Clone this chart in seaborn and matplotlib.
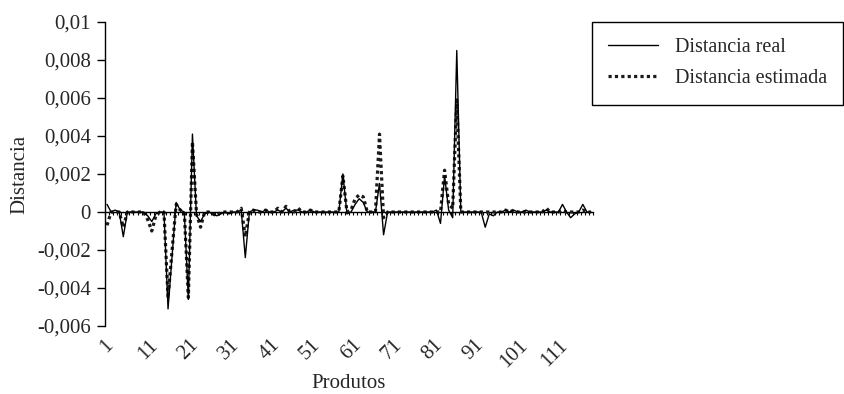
import numpy as np
import pandas as pd
import seaborn as sns
from matplotlib import pyplot as plt

# distance per product (1..120)
real = [
    0.0004, 0.0000, 0.0001, 0.0000, -0.0013, 0.0000, 0.0000, 0.0000, 0.0000, 0.0000,
    -0.0002, -0.0005, -0.0001, 0.0000, 0.0000, -0.0051, -0.0023, 0.0005, 0.0001, 0.0000,
    -0.0046, 0.0041, -0.0002, -0.0005, -0.0001, 0.0000, -0.0001, -0.0002, -0.0001, 0.0000,
    -0.0001, 0.0000, 0.0000, 0.0001, -0.0024, 0.0000, 0.0001, 0.0001, 0.0000, 0.0001,
    0.0000, 0.0000, 0.0001, 0.0000, 0.0002, 0.0000, 0.0001, 0.0001, 0.0000, 0.0000,
    0.0001, 0.0000, 0.0000, 0.0000, 0.0000, 0.0000, 0.0000, 0.0000, 0.0020, -0.0001,
    0.0000, 0.0004, 0.0007, 0.0005, 0.0000, 0.0000, 0.0000, 0.0015, -0.0012, 0.0000,
    0.0000, 0.0000, 0.0000, 0.0000, 0.0000, 0.0000, 0.0000, 0.0000, 0.0000, 0.0000,
    0.0000, 0.0001, -0.0006, 0.0019, 0.0001, -0.0003, 0.0085, 0.0000, 0.0000, 0.0000,
    0.0000, 0.0000, 0.0000, -0.0008, -0.0001, -0.0002, 0.0000, 0.0000, 0.0001, 0.0000,
    0.0001, 0.0000, 0.0000, 0.0001, 0.0000, 0.0000, 0.0000, 0.0000, 0.0001, 0.0000,
    0.0000, 0.0000, 0.0004, 0.0000, -0.0003, -0.0001, 0.0000, 0.0004, 0.0000, 0.0000,
]
estimada = [
    -0.0007, 0.0000, 0.0000, 0.0000, -0.0008, 0.0000, 0.0000, 0.0000, 0.0000, 0.0000,
    -0.0004, -0.0010, -0.0002, 0.0000, 0.0000, -0.0045, -0.0020, 0.0004, 0.0001, 0.0000,
    -0.0045, 0.0037, -0.0001, -0.0008, 0.0000, 0.0000, -0.0001, -0.0002, 0.0000, 0.0000,
    0.0000, 0.0000, 0.0000, 0.0002, -0.0013, 0.0000, 0.0001, 0.0000, 0.0000, 0.0001,
    0.0000, 0.0000, 0.0002, 0.0000, 0.0003, 0.0000, 0.0000, 0.0002, 0.0000, 0.0000,
    0.0001, 0.0000, 0.0000, 0.0000, 0.0000, 0.0000, 0.0000, 0.0000, 0.0019, 0.0000,
    0.0001, 0.0007, 0.0009, 0.0008, 0.0000, 0.0000, 0.0000, 0.0041, -0.0003, 0.0000,
    0.0000, 0.0000, 0.0000, 0.0000, 0.0000, 0.0000, 0.0000, 0.0000, 0.0000, 0.0000,
    0.0000, 0.0000, 0.0000, 0.0022, 0.0004, 0.0002, 0.0059, 0.0000, 0.0000, 0.0000,
    0.0000, 0.0000, 0.0000, 0.0000, 0.0000, 0.0000, 0.0000, 0.0000, 0.0001, 0.0000,
    0.0001, 0.0000, 0.0000, 0.0000, 0.0000, 0.0000, 0.0000, 0.0000, 0.0002, 0.0000,
    0.0000, 0.0000, 0.0001, 0.0000, 0.0000, 0.0000, 0.0000, 0.0001, 0.0000, 0.0000,
]
produtos = np.arange(1, len(real) + 1)

xtick_pos = list(range(1, 112, 10))
xtick_labels = [str(v) for v in xtick_pos]
ytick_pos = [-0.006, -0.004, -0.002, 0, 0.002, 0.004, 0.006, 0.008, 0.01]
ytick_labels = ['-0,006', '-0,004', '-0,002', '0', '0,002', '0,004', '0,006', '0,008', '0,01']

sns.set_style("white")
plt.rcParams['font.family'] = ['Liberation Serif', 'DejaVu Serif']
plt.rcParams['font.size'] = 15

df = pd.DataFrame({"Produtos": produtos, "real": real, "estimada": estimada})

fig = plt.figure(figsize=(8.45, 3.94), dpi=100)
ax = fig.add_axes([105 / 845, 1 - 326 / 394, (593 - 105) / 845, (326 - 22) / 394])

sns.lineplot(data=df, x="Produtos", y="estimada", ax=ax, color="#1a1a1a", lw=2.3,
             linestyle=(0, (1, 1)), label="Distancia estimada")
sns.lineplot(data=df, x="Produtos", y="real", ax=ax, color="black", lw=1.0,
             label="Distancia real")

ax.set_xlim(0.5, len(real) + 0.5)
ax.set_ylim(-0.006, 0.01)

ax.set_yticks(ytick_pos)
ax.set_yticklabels(ytick_labels)
ax.set_xticks(xtick_pos)
ax.set_xticklabels(xtick_labels, rotation=45, ha='center')
ax.tick_params(axis='x', length=0, pad=7)
ax.tick_params(axis='y', direction='out', length=6, width=1, pad=4, left=True, color='black')

for side in ['top', 'right', 'bottom']:
    ax.spines[side].set_visible(False)
ax.spines['left'].set_color('black')
ax.spines['left'].set_linewidth(1)

# category axis crossing at zero, with a tick per category
zero_frac = (0 - (-0.006)) / 0.016
sec = ax.secondary_xaxis(zero_frac)
sec.set_xticks(np.arange(0.5, len(real) + 1, 1))
sec.set_xticklabels([])
sec.tick_params(direction='out', length=2.5, width=0.8, color='black')
sec.spines['bottom'].set_color('black')
sec.spines['bottom'].set_linewidth(1)

ax.set_xlabel("Produtos", labelpad=2)
ax.set_ylabel("Distancia", labelpad=6)

handles, labels = ax.get_legend_handles_labels()
ax.get_legend().remove()
order = [labels.index("Distancia real"), labels.index("Distancia estimada")]
leg = fig.legend([handles[i] for i in order], [labels[i] for i in order],
                 loc='upper left', bbox_to_anchor=(592 / 845, 1 - 22 / 394),
                 frameon=True, fancybox=False, edgecolor='black', framealpha=1,
                 fontsize=14.5, borderpad=0.8, handlelength=2.5, handletextpad=0.8,
                 labelspacing=0.6, borderaxespad=0)
leg.get_frame().set_linewidth(1)

fig.savefig("out.png", dpi=100)
